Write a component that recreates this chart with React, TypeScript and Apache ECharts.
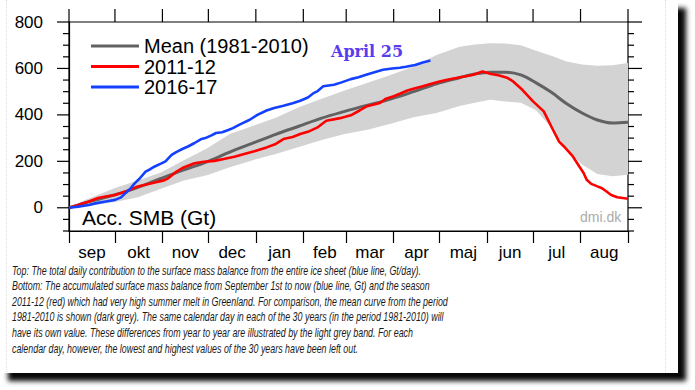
import React, { useEffect, useRef } from "react";
import * as echarts from "echarts";

// Month axis (days counted from 1 September)
const monthNames = ["sep", "okt", "nov", "dec", "jan", "feb", "mar", "apr", "maj", "jun", "jul", "aug"];
const monthStarts = [0, 30, 61, 91, 122, 153, 181, 212, 242, 273, 303, 334, 365];
const yLabelTicks = [0, 200, 400, 600, 800];
const yMinorTicks = [-100, -50, 0, 50, 100, 150, 200, 250, 300, 350, 400, 450, 500, 550, 600, 650, 700, 750, 800];

// Mean 1981-2010 and the light grey band (Gt)
const refDays = [0, 10, 20, 30, 45, 60, 75, 90, 105, 120, 135, 150, 165, 180, 195, 210, 225, 240, 255, 265, 275, 285, 295, 305, 315, 325, 335, 345, 355, 365];
const meanVals = [0, 20, 38, 56, 88, 126, 163, 198, 240, 278, 316, 351, 386, 415, 442, 468, 500, 534, 560, 576, 584, 584, 572, 538, 497, 448, 408, 378, 365, 368];
const bandLow = [0, 8, 15, 25, 45, 82, 118, 140, 175, 205, 232, 262, 292, 318, 336, 362, 390, 408, 438, 452, 465, 458, 452, 420, 345, 250, 186, 145, 136, 142];
const bandHigh = [0, 32, 58, 85, 118, 152, 205, 255, 318, 352, 388, 433, 470, 505, 538, 572, 608, 658, 693, 703, 709, 707, 700, 676, 655, 630, 617, 612, 614, 623];

// Season 2011-12
const redDays = [0, 6, 13, 19, 25, 30, 38, 45, 52, 56, 62, 65, 70, 74, 82, 88, 95, 101, 108, 115, 121, 129, 135, 140, 146, 151, 157, 162, 168, 177, 184, 190, 194, 203, 207, 212, 216, 221, 226, 231, 236, 242, 247, 253, 258, 264, 270, 275, 281, 286, 290, 296, 303, 310, 316, 320, 323, 329, 333, 336, 338, 341, 345, 348, 351, 354, 358, 365];
const redVals = [0, 12, 27, 42, 50, 55, 72, 92, 102, 109, 118, 128, 155, 171, 192, 198, 202, 210, 220, 233, 243, 260, 275, 296, 305, 318, 330, 345, 375, 386, 398, 420, 436, 451, 470, 480, 491, 505, 515, 523, 533, 544, 551, 559, 565, 573, 587, 577, 570, 560, 544, 508, 458, 415, 336, 285, 265, 221, 180, 150, 121, 103, 92, 84, 70, 55, 45, 39];

// Season 2016-17 (to April 25)
const blueDays = [0, 6, 13, 18, 24, 30, 34, 37, 40, 43, 46, 50, 53, 56, 60, 63, 67, 70, 74, 78, 82, 86, 89, 93, 96, 100, 104, 107, 112, 118, 123, 129, 134, 140, 146, 151, 156, 160, 162, 166, 173, 178, 184, 189, 194, 200, 205, 211, 216, 220, 226, 231, 236];
const blueVals = [0, 5, 12, 20, 27, 34, 45, 64, 82, 106, 125, 156, 166, 178, 190, 200, 228, 240, 253, 265, 279, 295, 300, 312, 322, 325, 335, 343, 360, 379, 400, 419, 430, 439, 450, 461, 475, 495, 501, 523, 530, 540, 554, 562, 573, 585, 594, 600, 603, 607, 615, 626, 634];

const captionLines = [
  "Top: The total daily contribution to the surface mass balance from the entire ice sheet (blue line, Gt/day).",
  "Bottom: The accumulated surface mass balance from September 1st to now (blue line, Gt) and the season",
  "2011-12 (red) which had very high summer melt in Greenland. For comparison, the mean curve from the period",
  "1981-2010 is shown (dark grey). The same calendar day in each of the 30 years (in the period 1981-2010) will",
  "have its own value. These differences from year to year are illustrated by the light grey band. For each",
  "calendar day, however, the lowest and highest values of the 30 years have been left out.",
];

const X_MIN = 0;
const X_MAX = 365;
const Y_MIN = -100;
const Y_MAX = 800;

const pairs = (xs: number[], ys: number[]) => xs.map((x, i) => [x, ys[i]]);

export default function App() {
  const ref = useRef<HTMLDivElement>(null);
  useEffect(() => {
    if (!ref.current) return;
    const chart = echarts.init(ref.current, null, { renderer: "svg" });
    const monthMids = monthNames.map((_, i) => (monthStarts[i] + monthStarts[i + 1]) / 2);
    const font = "Liberation Sans, Arial, Helvetica, sans-serif";
    const HW = 0.6; // half tick width in px

    const hiddenAxis = (gridIndex: number, min: number, max: number) => ({
      type: "value",
      gridIndex,
      min,
      max,
      show: false,
      splitLine: { show: false },
    });

    // thin vertical tick polygon between two data points of the same x
    const vTickPoly = (a: number[], b: number[]) => [
      [a[0] - HW, a[1]],
      [a[0] + HW, a[1]],
      [b[0] + HW, b[1]],
      [b[0] - HW, b[1]],
    ];
    const hTickPoly = (a: number[], b: number[]) => [
      [a[0], a[1] - HW],
      [b[0], b[1] - HW],
      [b[0], b[1] + HW],
      [a[0], a[1] + HW],
    ];

    const option: any = {
      animation: false,
      textStyle: { fontFamily: font },
      grid: [
        {
          left: 69,
          top: 22,
          width: 559,
          height: 209,
          containLabel: false,
          show: true,
          borderColor: "#000",
          borderWidth: 1.2,
          backgroundColor: "transparent",
        },
        // tick strips: top, left, right
        { left: 69, top: 9, width: 559, height: 13, show: false, containLabel: false },
        { left: 57, top: 22, width: 12, height: 209, show: false, containLabel: false },
        { left: 628, top: 22, width: 14, height: 209, show: false, containLabel: false },
      ],
      legend: {
        data: ["Mean (1981-2010)", "2011-12", "2016-17"],
        orient: "vertical",
        left: 86,
        top: 31,
        itemWidth: 48,
        itemHeight: 3,
        itemGap: 0.5,
        icon: "rect",
        selectedMode: false,
        textStyle: { fontSize: 20, color: "#000", fontFamily: font, lineHeight: 20 },
      },
      xAxis: [
        {
          type: "value",
          gridIndex: 0,
          position: "bottom",
          min: X_MIN,
          max: X_MAX,
          axisLine: { show: true, onZero: false, lineStyle: { color: "#000", width: 1.2 } },
          axisTick: { show: true, customValues: monthStarts, length: 12, lineStyle: { color: "#000", width: 1.2 } },
          axisLabel: {
            show: true,
            customValues: monthMids,
            formatter: (v: number) => {
              let best = 0;
              monthMids.forEach((m, i) => {
                if (Math.abs(m - v) < Math.abs(monthMids[best] - v)) best = i;
              });
              return monthNames[best];
            },
            fontSize: 17,
            color: "#000",
            margin: 13,
            fontFamily: font,
          },
          splitLine: { show: false },
        },
        hiddenAxis(1, X_MIN, X_MAX),
        hiddenAxis(2, -12, 0),
        hiddenAxis(3, 0, 14),
      ],
      yAxis: [
        {
          type: "value",
          gridIndex: 0,
          position: "left",
          min: Y_MIN,
          max: Y_MAX,
          interval: 50,
          axisLine: { show: true, onZero: false, lineStyle: { color: "#000", width: 1.2 } },
          axisTick: { show: false },
          axisLabel: { show: true, customValues: yLabelTicks, fontSize: 17, color: "#000", margin: 26, fontFamily: font },
          splitLine: { show: false },
        },
        hiddenAxis(1, 0, 13),
        hiddenAxis(2, Y_MIN, Y_MAX),
        hiddenAxis(3, Y_MIN, Y_MAX),
      ],
      series: [
        {
          name: "band",
          type: "custom",
          silent: true,
          data: [[0, 0]],
          encode: { x: 0, y: 1 },
          z: 1,
          renderItem: (params: any, api: any) => {
            const top = refDays.map((d, i) => api.coord([d, bandHigh[i]]));
            const bottom = refDays.map((d, i) => api.coord([d, bandLow[i]])).reverse();
            return {
              type: "polygon",
              shape: { points: top.concat(bottom) },
              style: { fill: "#d3d3d3", stroke: "none" },
            };
          },
        },
        {
          name: "topTicks",
          type: "custom",
          silent: true,
          xAxisIndex: 1,
          yAxisIndex: 1,
          data: monthStarts.map((d) => [d, 0]),
          encode: { x: 0, y: 1 },
          z: 6,
          renderItem: (params: any, api: any) => {
            const d = api.value(0);
            return {
              type: "polygon",
              shape: { points: vTickPoly(api.coord([d, 0]), api.coord([d, 13])) },
              style: { fill: "#000" },
            };
          },
        },
        {
          name: "leftTicks",
          type: "custom",
          silent: true,
          xAxisIndex: 2,
          yAxisIndex: 2,
          data: yMinorTicks.map((v) => [0, v]),
          encode: { x: 0, y: 1 },
          z: 6,
          renderItem: (params: any, api: any) => {
            const v = api.value(1);
            const len = yLabelTicks.indexOf(v) >= 0 ? 12 : 6;
            return {
              type: "polygon",
              shape: { points: hTickPoly(api.coord([-len, v]), api.coord([0, v])) },
              style: { fill: "#000" },
            };
          },
        },
        {
          name: "rightTicks",
          type: "custom",
          silent: true,
          xAxisIndex: 3,
          yAxisIndex: 3,
          data: yMinorTicks.map((v) => [0, v]),
          encode: { x: 0, y: 1 },
          z: 6,
          renderItem: (params: any, api: any) => {
            const v = api.value(1);
            const len = yLabelTicks.indexOf(v) >= 0 ? 14 : 6;
            return {
              type: "polygon",
              shape: { points: hTickPoly(api.coord([0, v]), api.coord([len, v])) },
              style: { fill: "#000" },
            };
          },
        },
        {
          name: "Mean (1981-2010)",
          type: "line",
          data: pairs(refDays, meanVals),
          smooth: 0.35,
          symbol: "none",
          color: "#626262",
          lineStyle: { color: "#626262", width: 3 },
          z: 3,
        },
        {
          name: "2011-12",
          type: "line",
          data: pairs(redDays, redVals),
          symbol: "none",
          color: "#ff0000",
          lineStyle: { color: "#ff0000", width: 2.6 },
          z: 4,
        },
        {
          name: "2016-17",
          type: "line",
          data: pairs(blueDays, blueVals),
          symbol: "none",
          color: "#1440ff",
          lineStyle: { color: "#1440ff", width: 2.6 },
          z: 5,
        },
      ],
      graphic: [
        {
          type: "text",
          x: 331,
          y: 51,
          style: {
            text: "April 25",
            fill: "#5a3cf0",
            font: "bold 16px 'DejaVu Serif', serif",
            verticalAlign: "middle",
          },
          z: 10,
        },
        {
          type: "text",
          x: 82,
          y: 217,
          style: { text: "Acc. SMB (Gt)", fill: "#000", fontSize: 21, fontFamily: font, verticalAlign: "middle" },
          z: 10,
        },
        {
          type: "text",
          x: 580,
          y: 217,
          style: { text: "dmi.dk", fill: "#ababab", fontSize: 14, fontFamily: font, verticalAlign: "middle" },
          z: 10,
        },
        ...captionLines.map((line, i) => ({
          type: "text",
          x: 12,
          y: 270 + i * 15.6,
          scaleX: 0.74,
          style: {
            text: line,
            fill: "#1a1a1a",
            font: "italic 12px 'Liberation Sans', Arial, sans-serif",
            verticalAlign: "middle",
          },
          z: 10,
        })),
      ],
    };
    chart.setOption(option);
    return () => chart.dispose();
  }, []);

  return (
    <div style={{ position: "absolute", left: 0, top: 0, width: 695, height: 390, background: "#fff" }}>
      <div
        style={{
          position: "absolute",
          left: 0,
          top: 0,
          width: 678,
          height: 373,
          background: "#fff",
          boxShadow: "8px 8px 5px rgba(0,0,0,0.97)",
        }}
      />
      <div
        style={{
          position: "absolute",
          left: 6,
          top: 0,
          width: 658,
          height: 372,
          borderLeft: "1px dotted #dddddd",
          borderRight: "1px dotted #dddddd",
        }}
      />
      <div ref={ref} style={{ position: "absolute", left: 0, top: 0, width: 695, height: 390 }} />
    </div>
  );
}
